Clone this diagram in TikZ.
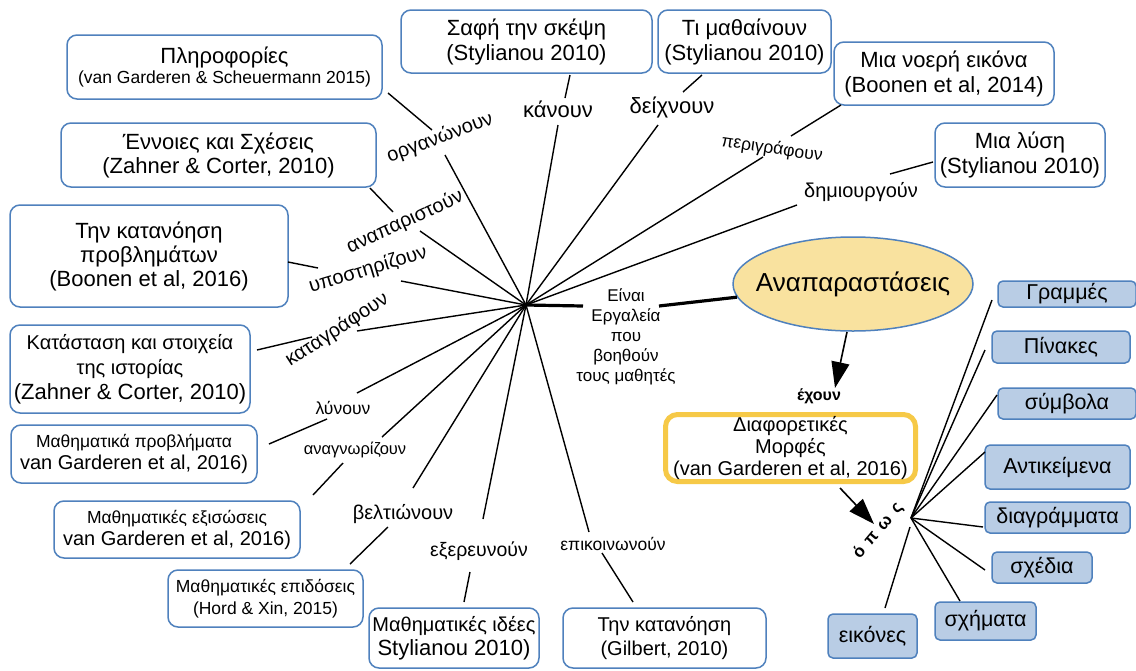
\documentclass[tikz,border=0pt]{standalone}
\usepackage{fontspec}
\setmainfont{Liberation Sans}
\usetikzlibrary{shapes.geometric,arrows.meta}
\definecolor{bblue}{HTML}{4F81BD}
\definecolor{bfill}{HTML}{B9CDE5}
\definecolor{ellfill}{HTML}{F9E29F}
\definecolor{ybord}{HTML}{F6C947}
\newcommand\fsz[2]{\fontsize{#1}{#2}\selectfont}
\begin{document}
\begin{tikzpicture}[x=1pt,y=-1pt,
  box/.style={draw=bblue,line width=1.5pt,rounded corners=10pt,fill=white,align=center,inner sep=0pt},
  tag/.style={draw=bblue,line width=1.5pt,rounded corners=5pt,fill=bfill,inner sep=0pt,font=\fsz{21.5}{24}},
  lbl/.style={inner sep=0pt},
  link/.style={line width=1.4pt,black},
  arr/.style={line width=1.6pt,-{Triangle[length=26pt,width=18pt]}}]
\fill[white] (0,0) rectangle (1136,670);
\useasboundingbox (0,0) rectangle (1136,670);

% boxes
\node[box,minimum width=315pt,minimum height=64pt,font=\fsz{22}{20}] (B1) at (224.5,67) {Πληροφορίες\\{\fsz{17.5}{20}(van Garderen \& Scheuermann 2015)}};
\node[box,minimum width=315pt,minimum height=64pt,font=\fsz{22}{24}] (B2) at (218.5,155) {Έννοιες και Σχέσεις\\(Zahner \& Corter, 2010)};
\node[box,minimum width=278pt,minimum height=102pt,font=\fsz{22}{24}] (B3) at (149,256) {Την κατανόηση\\προβλημάτων\\(Boonen et al, 2016)};
\node[box,minimum width=240pt,minimum height=88pt,font=\fsz{20}{25}] (B4) at (130,369) {Κατάσταση και στοιχεία\\της ιστορίας\\{\fsz{22}{25}(Zahner \& Corter, 2010)}};
\node[box,minimum width=246pt,minimum height=58pt,font=\fsz{17.5}{22}] (B5) at (134,454) {Μαθηματικά προβλήματα\\{\fsz{20}{22}van Garderen et al, 2016)}};
\node[box,minimum width=246pt,minimum height=57pt,font=\fsz{17.5}{22}] (B6) at (177,529.5) {Μαθηματικές εξισώσεις\\{\fsz{20}{22}van Garderen et al, 2016)}};
\node[box,minimum width=195pt,minimum height=57pt,font=\fsz{17.5}{22}] (B7) at (265.5,598.5) {Μαθηματικές επιδόσεις\\(Hord \& Xin, 2015)};
\node[box,minimum width=170pt,minimum height=60pt,font=\fsz{20}{24}] (B8) at (454,638) {Μαθηματικές ιδέες\\{\fsz{22}{24}Stylianou 2010)}};
\node[box,minimum width=203pt,minimum height=60pt,font=\fsz{20}{24}] (B9) at (664.5,638) {Την κατανόηση\\(Gilbert, 2010)};
\node[box,minimum width=251pt,minimum height=63pt,font=\fsz{22}{25}] (B10) at (526.5,41.5) {Σαφή την σκέψη\\(Stylianou 2010)};
\node[box,minimum width=173pt,minimum height=63pt,font=\fsz{22}{25}] (B11) at (744.5,41.5) {Τι μαθαίνουν\\(Stylianou 2010)};
\node[box,minimum width=220pt,minimum height=63pt,font=\fsz{22}{25}] (B12) at (944,73.5) {Μια νοερή εικόνα\\(Boonen et al, 2014)};
\node[box,minimum width=170pt,minimum height=64pt,font=\fsz{22}{25}] (B13) at (1020,155) {Μια λύση\\(Stylianou 2010)};

% central ellipse and yellow box
\node[ellipse,draw=bblue,line width=1.5pt,fill=ellfill,minimum width=240pt,minimum height=94pt,inner xsep=-14pt,inner ysep=0pt,font=\fsz{26}{30}] (ell) at (853,284) {Αναπαραστάσεις};
\node[draw=ybord,line width=5pt,rounded corners=12pt,fill=white,minimum width=250pt,minimum height=67pt,inner sep=0pt,align=center,font=\fsz{20}{22}] (Y) at (790.5,448) {Διαφορετικές\\Μορφές\\(van Garderen et al, 2016)};

% tools text
\node[lbl,align=center,font=\fsz{17}{20}] (tools) at (626,337) {Είναι\\Εργαλεία\\που\\βοηθούν\\τους μαθητές};

% labels
\node[lbl,font=\fsz{20}{22},rotate=20.5] (L1) at (440,138) {οργανώνουν};
\node[lbl,font=\fsz{20}{22},rotate=24.7] (L2) at (405,222) {αναπαριστούν};
\node[lbl,font=\fsz{20}{22},rotate=16.8] (L3) at (368,270) {υποστηρίζουν};
\node[lbl,font=\fsz{20}{22},rotate=33] (L4) at (337,330) {καταγράφουν};
\node[lbl,font=\fsz{17.5}{20}] (L5) at (343,408) {λύνουν};
\node[lbl,font=\fsz{16.5}{20}] (L6) at (355,450) {αναγνωρίζουν};
\node[lbl,font=\fsz{20}{22}] (L7) at (403,514) {βελτιώνουν};
\node[lbl,font=\fsz{19.5}{22}] (L8) at (479,551) {εξερευνούν};
\node[lbl,font=\fsz{17.5}{20}] (L9) at (613,544) {επικοινωνούν};
\node[lbl,font=\fsz{22}{24}] (L10) at (558,109) {κάνουν};
\node[lbl,font=\fsz{22}{24}] (L11) at (672,107) {δείχνουν};
\node[lbl,font=\fsz{17.5}{20},rotate=-8.5] (L12) at (772,149) {περιγράφουν};
\node[lbl,font=\fsz{20}{22}] (L13) at (861,192) {δημιουργούν};

% hub and spokes
\coordinate (hub) at (526,305);
\coordinate (s1) at (445,155);  \coordinate (s2) at (420,231);
\coordinate (s3) at (401,281);  \coordinate (s4) at (357,331);
\coordinate (s5) at (357,393);  \coordinate (s6) at (382,437);
\coordinate (s7) at (413,488);  \coordinate (s8) at (483,519);
\coordinate (s9) at (589,532);  \coordinate (s10) at (558,125);
\coordinate (s11) at (658,125); \coordinate (s12) at (763,157);
\coordinate (s13) at (797,205);
\foreach \i in {1,...,13} {\draw[link] (hub) -- (s\i);}

% label-to-box links
\coordinate (t1) at (432,130);  \coordinate (u1) at (388,93);
\coordinate (t2) at (393,212);  \coordinate (u2) at (370,188);
\coordinate (t3) at (318,268);  \coordinate (u3) at (288,262);
\coordinate (t4) at (312,337);  \coordinate (u4) at (257,350);
\coordinate (t5) at (327,419);  \coordinate (u5) at (269,444);
\coordinate (t6) at (343,463);  \coordinate (u6) at (313,495);
\coordinate (t7) at (388,527);  \coordinate (u7) at (350,564);
\coordinate (t8) at (470,572);  \coordinate (u8) at (464,602);
\coordinate (t9) at (602,553);  \coordinate (u9) at (633,602);
\coordinate (t10) at (565,98);  \coordinate (u10) at (570,75);
\coordinate (t11) at (683,92);  \coordinate (u11) at (702,75);
\coordinate (t12) at (791,136); \coordinate (u12) at (841,105);
\coordinate (t13) at (890,174); \coordinate (u13) at (933,162);
\foreach \i in {1,...,13} {\draw[link] (t\i) -- (u\i);}

% thick link to ellipse
\coordinate (w1) at (583,306);
\coordinate (w2) at (659,306);
\draw[line width=3.2pt] (hub) -- (w1);
\draw[line width=3.2pt] (w2) -- (ell);

% arrows
\node[lbl,font=\bfseries\fsz{16}{18}] (exoun) at (819,396) {έχουν};
\coordinate (a1) at (847,332); \coordinate (a1t) at (835,388);
\draw[arr] (a1) -- (a1t);
\node[lbl,font=\bfseries\fsz{17}{20},rotate=50] (opos) at (878,531) {ό\hspace{7pt}π\hspace{7pt}ω\hspace{7pt}ς};
\coordinate (a2) at (840,488); \coordinate (a2t) at (874,524);
\draw[arr] (a2) -- (a2t);

% blue tags
\node[tag,minimum width=138pt,minimum height=26pt] (T1) at (1067,294) {Γραμμές};
\node[tag,minimum width=138pt,minimum height=32pt] (T2) at (1061,347) {Πίνακες};
\node[tag,minimum width=138pt,minimum height=31pt] (T3) at (1067,403.5) {σύμβολα};
\node[tag,minimum width=145pt,minimum height=44pt] (T4) at (1057.5,467) {Αντικείμενα};
\node[tag,minimum width=145pt,minimum height=31pt] (T5) at (1057.5,517.5) {διαγράμματα};
\node[tag,minimum width=100pt,minimum height=31pt] (T6) at (1042,567.5) {σχέδια};
\node[tag,minimum width=101pt,minimum height=38pt] (T7) at (985.5,621) {σχήματα};
\node[tag,minimum width=89pt,minimum height=44pt] (T8) at (872.5,636) {εικόνες};

\coordinate (hub2) at (911,518);
\coordinate (h1) at (992,300); \coordinate (h2) at (985,350);
\coordinate (h3) at (997,395); \coordinate (h4) at (985,452);
\coordinate (h5) at (983,527); \coordinate (h6) at (985,570);
\coordinate (h7) at (960,601);
\foreach \i in {1,...,7} {\draw[link] (hub2) -- (h\i);}
\coordinate (h8s) at (910,527); \coordinate (h8) at (885,608);
\draw[link] (h8s) -- (h8);
\end{tikzpicture}
\end{document}
